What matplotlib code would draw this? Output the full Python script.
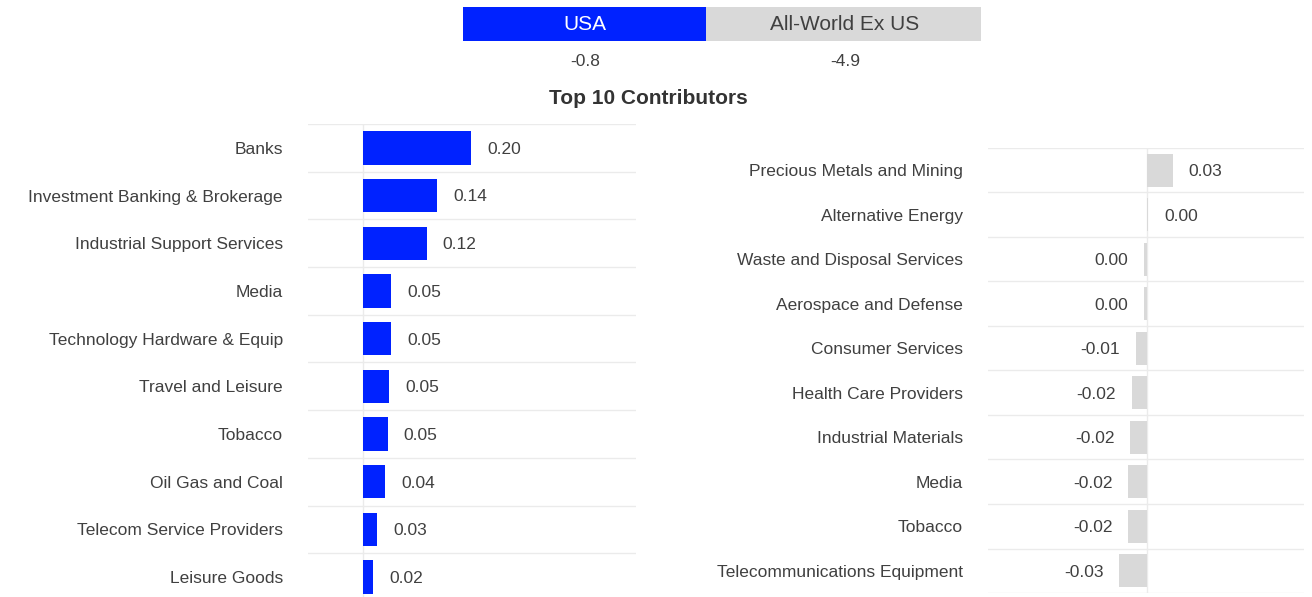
import matplotlib
matplotlib.use("Agg")
import matplotlib.pyplot as plt
from matplotlib.patches import Rectangle

plt.rcParams["font.family"] = ["Liberation Sans", "DejaVu Sans"]

# header
regions = ["USA", "All-World Ex US"]
region_totals = [-0.8, -4.9]

# left panel: USA top contributors
usa_sectors = [
    "Banks", "Investment Banking & Brokerage", "Industrial Support Services",
    "Media", "Technology Hardware & Equip", "Travel and Leisure", "Tobacco",
    "Oil Gas and Coal", "Telecom Service Providers", "Leisure Goods",
]
usa_values = [0.200, 0.137, 0.118, 0.052, 0.052, 0.048, 0.046, 0.041, 0.026, 0.019]

# right panel: All-World Ex US
world_sectors = [
    "Precious Metals and Mining", "Alternative Energy", "Waste and Disposal Services",
    "Aerospace and Defense", "Consumer Services", "Health Care Providers",
    "Industrial Materials", "Media", "Tobacco", "Telecommunications Equipment",
]
world_values = [0.028, 0.001, -0.004, -0.004, -0.013, -0.017, -0.019, -0.021, -0.021, -0.031]

BLUE = "#0022ff"
GREY = "#d9d9d9"
TXT = "#404040"
GRID = "#ebebeb"
W, H = 1312, 597
FS = 12.5


def fmt(v):
    s = f"{v:.2f}"
    return "0.00" if s == "-0.00" else s


def panel(ax, names, vals, color, xlim, bar_h):
    y = range(len(names))
    ax.barh(y, vals, height=bar_h, color=color, zorder=2)
    ax.set_xlim(*xlim)
    ax.set_ylim(len(names) - 0.5, -0.5)
    for b in [i - 0.5 for i in range(len(names) + 1)]:
        ax.axhline(b, color=GRID, lw=1, zorder=1)
    ax.axvline(0, color=GRID, lw=1, zorder=1)
    for i, v in enumerate(vals):
        off = 11.5 if v >= 0 else -11.5
        ax.annotate(fmt(v), (v, i), xytext=(off, -1), textcoords="offset points",
                    ha="left" if v >= 0 else "right", va="center",
                    fontsize=FS, color=TXT)
    ax.set_yticks(list(y))
    ax.set_yticklabels(names, fontsize=FS, color=TXT)
    ax.tick_params(axis="y", length=0, pad=18)
    ax.set_xticks([])
    for s in ax.spines.values():
        s.set_visible(False)


fig = plt.figure(figsize=(W / 100, H / 100), dpi=100)

ax1 = fig.add_axes([308 / W, (H - 601) / H, 328 / W, 477 / H])
panel(ax1, usa_sectors, usa_values, BLUE, (-0.102, 0.506), 0.7)

ax2 = fig.add_axes([988 / W, (H - 593) / H, 316 / W, 445 / H])
panel(ax2, world_sectors, world_values, GREY, (-0.177, 0.174), 0.75)

# header boxes
fig.add_artist(Rectangle((463 / W, 1 - 41 / H), 243 / W, 34 / H,
                         transform=fig.transFigure, color=BLUE, lw=0))
fig.add_artist(Rectangle((706 / W, 1 - 41 / H), 275 / W, 34 / H,
                         transform=fig.transFigure, color=GREY, lw=0))
hx = [585 / W, 845 / W]
fig.text(hx[0], 1 - 24 / H, regions[0], ha="center", va="center", fontsize=15, color="white")
fig.text(hx[1], 1 - 24 / H, regions[1], ha="center", va="center", fontsize=15, color=TXT)
for x, v in zip(hx, region_totals):
    fig.text(x, 1 - 61 / H, f"{v:.1f}", ha="center", va="center", fontsize=FS, color=TXT)

fig.text(648 / W, 1 - 99 / H, "Top 10 Contributors", ha="center", va="center",
         fontsize=15, fontweight="bold", color="#333333")

fig.savefig("out.png", dpi=100)
